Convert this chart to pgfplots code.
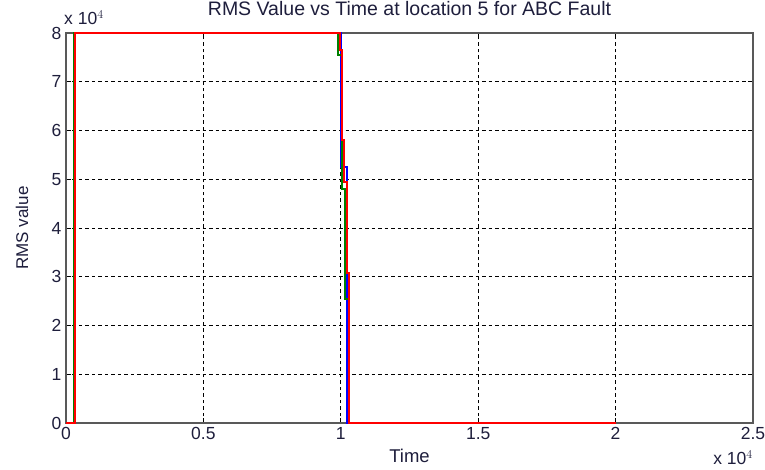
\documentclass[border=0pt]{standalone}
\usepackage{pgfplots}
\pgfplotsset{compat=1.18}
\usepackage{fontspec}
\setmainfont{Liberation Sans}
\definecolor{txt}{RGB}{30,30,60}
\definecolor{mgreen}{RGB}{0,128,0}
\begin{document}
\begin{tikzpicture}
\path[use as bounding box] (-66pt,-47pt) rectangle (699pt,423pt);
\begin{axis}[
    at={(0,0)}, anchor=south west,
    scale only axis,
    width=687pt, height=390pt,
    xmin=0, xmax=25000, ymin=0, ymax=80000,
    scaled ticks=false,
    xtick={0,5000,10000,15000,20000,25000},
    xticklabels={0,0.5,1,1.5,2,2.5},
    ytick={0,10000,20000,30000,40000,50000,60000,70000,80000},
    yticklabels={0,1,2,3,4,5,6,7,8},
    tick align=inside,
    major tick length=5pt,
    tick style={black, line width=0.7pt},
    grid=major,
    major grid style={black, line width=0.8pt, dash pattern=on 3.5pt off 3pt},
    axis line style={draw=black!65, line width=1.6pt},
    ticklabel style={font=\fontsize{17.5}{19}\selectfont, text=txt},
    xticklabel style={yshift=-1pt},
    yticklabel style={xshift=-1pt},
    title={RMS Value vs Time at location 5 for ABC Fault},
    title style={font=\fontsize{19.5}{21}\selectfont, text=txt,
        at={(rel axis cs:0.5,1)}, anchor=center, yshift=18pt},
    xlabel={Time},
    xlabel style={font=\fontsize{18.5}{20}\selectfont, text=txt,
        at={(rel axis cs:0.5,0)}, anchor=center, yshift=-33pt},
    ylabel={RMS value},
    ylabel style={font=\fontsize{17}{19}\selectfont, text=txt,
        at={(rel axis cs:0,0.5)}, anchor=center, yshift=44pt},
    clip=false,
]
% blue phase
\addplot[blue, line width=2pt] coordinates {
    (0,0) (300,0) (300,80000) (10020,80000) (10020,52500)
    (10215,52500) (10215,0) (20000,0)
};
% green phase
\addplot[mgreen, line width=2pt] coordinates {
    (0,0) (300,0) (300,80000) (9900,80000) (9900,75500)
    (10040,75500) (10040,48000) (10150,48000) (10150,25500)
    (10300,25500) (10300,0) (20000,0)
};
% red phase
\addplot[red, line width=2.2pt] coordinates {
    (0,0) (320,0) (320,80000) (9970,80000) (9970,76500)
    (10044,76500) (10044,58000) (10116,58000) (10116,49500)
    (10215,49500) (10215,30700) (10310,30700) (10310,0) (20000,0)
};
\node[anchor=west, font=\fontsize{17.5}{19}\selectfont, text=txt, inner sep=0pt]
    at ([yshift=15pt,xshift=-2pt]rel axis cs:0,1) {x 10$^{4}$};
\node[anchor=east, font=\fontsize{17.5}{19}\selectfont, text=txt, inner sep=0pt]
    at ([yshift=-35pt]rel axis cs:1,0) {x 10$^{4}$};
\end{axis}
\end{tikzpicture}
\end{document}
